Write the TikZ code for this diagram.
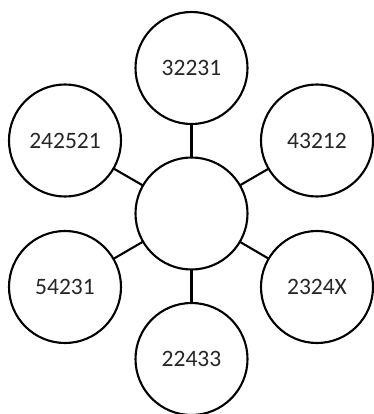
\documentclass[tikz,border=0pt]{standalone}
\usepackage{fontspec}
\setmainfont{Carlito}
\begin{document}
\begin{tikzpicture}[x=1pt,y=-1pt,
  bubble/.style={circle,draw=black,line width=2.1pt,minimum size=112pt,inner sep=0pt,outer sep=0pt,font=\fontsize{23.5}{26}\selectfont,text=black!85},
  link/.style={line width=2.1pt,draw=black}]
\useasboundingbox[fill=white] (0,0) rectangle (373,414);
\node[bubble] (c) at (191.5,213.5) {};
\node[bubble] (t) at (191.5,68) {32231};
\node[bubble] (ul) at (65,140.5) {242521};
\node[bubble] (ur) at (317,140.5) {43212};
\node[bubble] (ll) at (65,287) {54231};
\node[bubble] (lr) at (317,287) {2324X};
\node[bubble] (b) at (191.5,359) {22433};
\foreach \n in {t,ul,ur,ll,lr,b} \draw[link] (c) -- (\n);
\end{tikzpicture}
\end{document}
